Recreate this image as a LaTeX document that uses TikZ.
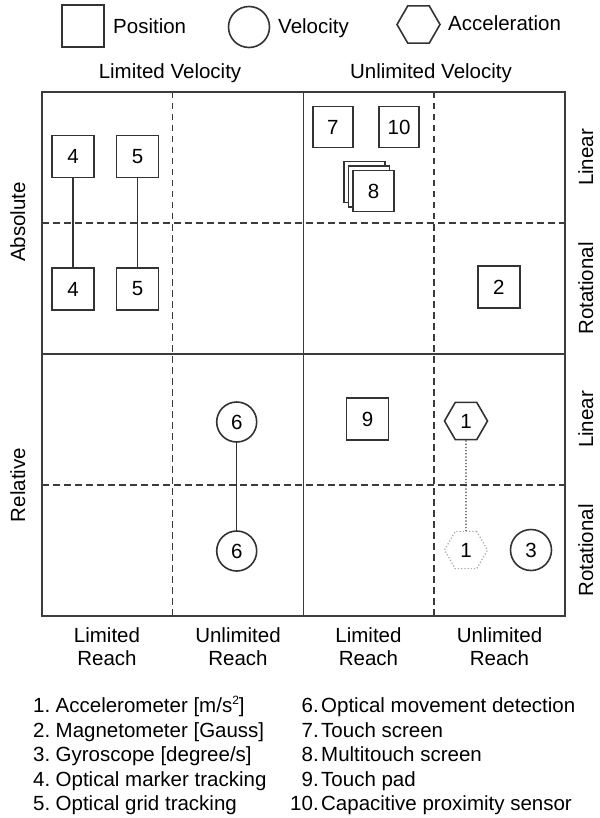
\documentclass[tikz,border=0pt]{standalone}
\usepackage{fontspec}
\setmainfont{Liberation Sans}
\usetikzlibrary{shapes.geometric}

\definecolor{ink}{HTML}{333333}
\definecolor{gridline}{HTML}{3C3C3C}
\definecolor{ghost}{HTML}{A8A8A8}

\begin{document}
\begin{tikzpicture}[x=1pt,y=-1pt,
  every node/.style={font=\fontsize{20.5}{24.6}\selectfont, text=black},
  frame/.style={draw=gridline, line width=1.7pt},
  divider/.style={draw=gridline, line width=1.6pt, dash pattern=on 6.5pt off 4.5pt},
  posbox/.style={draw=ink, line width=1.6pt, minimum width=42pt, minimum height=42pt, inner sep=0pt, fill=white},
  velcirc/.style={draw=ink, line width=1.6pt, circle, minimum size=40pt, inner sep=0pt, fill=white},
  acchex/.style={draw=ink, line width=1.6pt, regular polygon, regular polygon sides=6, minimum size=43pt, inner sep=0pt, fill=white},
  ghosthex/.style={acchex, draw=ghost, line width=1.2pt, dotted},
  link/.style={draw=ink, line width=1.4pt},
  dotlink/.style={draw=ink, line width=1.2pt, dotted},
  lbl/.style={inner sep=0pt, anchor=base},
  vlbl/.style={inner sep=0pt, anchor=base, rotate=90},
  listitem/.style={inner sep=0pt, anchor=base west},
]
\useasboundingbox (0,0) rectangle (599,818);

% legend
\node[posbox] (legpos) at (83,26) {};
\node[lbl, anchor=base west] (legpostxt) at (113,34) {Position};
\node[velcirc, minimum size=41pt] (legvel) at (249,27) {};
\node[lbl, anchor=base west] (legveltxt) at (278,34) {Velocity};
\node[acchex] (legacc) at (418.5,24.5) {};
\node[lbl, anchor=base west] (legacctxt) at (448,31) {Acceleration};

% column group headings
\node[lbl] (hlimv) at (170,79) {Limited Velocity};
\node[lbl] (hunlv) at (431,79) {Unlimited Velocity};

% grid
\draw[frame] (42,92) rectangle (565,616);
\draw[frame] (303.5,92) -- (303.5,616);
\draw[frame] (42,354) -- (565,354);
\draw[divider] (172.5,92) -- (172.5,616);
\draw[divider] (434,92) -- (434,616);
\draw[divider] (42,223) -- (565,223);
\draw[divider] (42,485) -- (565,485);

% side labels
\node[vlbl] (labs) at (25,222) {Absolute};
\node[vlbl] (lrel) at (25,485) {Relative};
\node[vlbl] (rlin1) at (593,157.5) {Linear};
\node[vlbl] (rrot1) at (593,288.5) {Rotational};
\node[vlbl] (rlin2) at (593,419.5) {Linear};
\node[vlbl] (rrot2) at (593,550.5) {Rotational};

% bottom labels
\node[lbl] (b1a) at (107,642) {Limited};
\node[lbl] (b1b) at (107,665) {Reach};
\node[lbl] (b2a) at (238,642) {Unlimited};
\node[lbl] (b2b) at (238,665) {Reach};
\node[lbl] (b3a) at (368.5,642) {Limited};
\node[lbl] (b3b) at (368.5,665) {Reach};
\node[lbl] (b4a) at (499.5,642) {Unlimited};
\node[lbl] (b4b) at (499.5,665) {Reach};

% sensors
\node[posbox] (s4a) at (73,156.5) {4};
\node[posbox] (s4b) at (73,289) {4};
\node[posbox] (s5a) at (137.5,156.5) {5};
\node[posbox] (s5b) at (137.5,289) {5};

\node[posbox, minimum width=40pt, minimum height=41pt] (s7) at (332.7,127) {7};
\node[posbox, minimum width=40pt, minimum height=41pt] (s10) at (399,127) {10};
\node[posbox, minimum width=41pt, minimum height=41pt] (s8c) at (364.5,182) {};
\node[posbox, minimum width=41pt, minimum height=41pt] (s8b) at (369,186.5) {};
\node[posbox, minimum width=41pt, minimum height=41pt] (s8) at (373.5,191) {8};

\node[posbox] (s2) at (498.7,287) {2};
\node[posbox] (s9) at (367.5,419) {9};

\node[velcirc] (s6a) at (236.7,422) {6};
\node[velcirc] (s6b) at (236.7,551) {6};

\node[acchex] (s1a) at (466,421) {1};
\node[ghosthex] (s1b) at (466,550) {1};
\node[velcirc, minimum size=41pt] (s3) at (531,550) {3};

% connectors
\draw[link] (s4a) -- (s4b);
\draw[link] (s5a) -- (s5b);
\draw[link] (s6a) -- (s6b);
\draw[dotlink] (s1a) -- (s1b);

% key
\node[listitem] (k1) at (33,712) {\makebox[22.5pt][l]{1.}Accelerometer [m/s\raisebox{0.35em}{\fontsize{12}{12}\selectfont 2}]};
\node[listitem] (k2) at (33,737) {\makebox[22.5pt][l]{2.}Magnetometer [Gauss]};
\node[listitem] (k3) at (33,761.5) {\makebox[22.5pt][l]{3.}Gyroscope [degree/s]};
\node[listitem] (k4) at (33,786) {\makebox[22.5pt][l]{4.}Optical marker tracking};
\node[listitem] (k5) at (33,810.5) {\makebox[22.5pt][l]{5.}Optical grid tracking};
\node[listitem] (k6) at (290,712) {\makebox[28.5pt][r]{6.}\hspace{2.5pt}Optical movement detection};
\node[listitem] (k7) at (290,737) {\makebox[28.5pt][r]{7.}\hspace{2.5pt}Touch screen};
\node[listitem] (k8) at (290,761.5) {\makebox[28.5pt][r]{8.}\hspace{2.5pt}Multitouch screen};
\node[listitem] (k9) at (290,786) {\makebox[28.5pt][r]{9.}\hspace{2.5pt}Touch pad};
\node[listitem] (k10) at (290,810.5) {\makebox[28.5pt][r]{10.}\hspace{2.5pt}Capacitive proximity sensor};
\end{tikzpicture}
\end{document}
